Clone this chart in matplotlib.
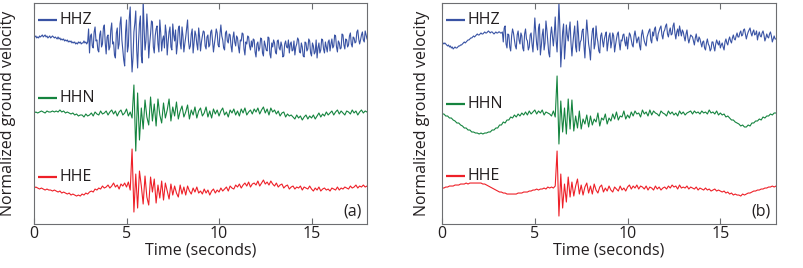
import numpy as np
import matplotlib
matplotlib.use("Agg")
import matplotlib.pyplot as plt

plt.rcParams['font.family'] = ['Open Sans', 'DejaVu Sans']

# sample spacing 0.1 s for most channels, 0.05 s for the vertical ones
t = np.linspace(0, 18, 181)
t_fine = np.linspace(0, 18, 361)

# station (a), deflection of each component (arbitrary units)
a_hhz = [0, 1, 2, 0, 1, 0, 2, 1, 2, 3, 1, 2, 3, 1, 2, 0, 1, 2, 0, 1,
         2, 1, 0, 1, 0, -1, 1, -1, 0, -2, -1, -2, -1, -3, -2, -3, -2, -4, -3, -4,
         -3, -5, -4, -5, -4, -6, -5, -6, -4, -5, -4, -6, -5, -5, -3, -5, -4, -6, -4, 9,
         -15, 2, 4, -8, -10, 6, 11, -3, -2, -12, -14, 3, 7, -9, -6, 10, 13, -5, -16, 1,
         3, -12, -9, 8, 15, -6, -4, -17, -20, 5, 10, -11, -6, 14, 21, -2, -12, -22, -28, 6,
         18, -14, -8, 20, 31, -10, -34, -20, 6, 15, 27, -12, -30, -4, 14, 22, -18, -25, 38, 10,
         -12, -3, 24, 8, -20, -6, 4, 17, 16, -9, -15, 2, 9, 12, -6, -14, 18, 5, -13, -2,
         2, -10, 13, 5, -17, -4, 6, 11, -9, -12, 14, 3, -3, 8, -16, -7, 9, 12, -5, -11,
         11, 2, -14, -6, 1, 10, 18, -3, -11, -8, 4, 9, -15, -5, 7, 3, -6, -12, 10, 1,
         -13, -4, 2, 7, 6, -8, -11, 1, 3, -9, -7, 6, 8, -3, -14, -6, 1, 9, 5, -7,
         -9, 4, 13, 2, -2, -10, -12, 5, 7, -3, -5, 4, 3, -8, -14, 0, 6, -4, -8, 2,
         0, -9, -15, -2, -3, 5, 4, -11, -17, -4, -6, 2, 1, -8, -12, -3, -9, -1, -2, -14,
         -19, -6, -4, -13, -10, 0, -1, -15, -18, -3, -7, -12, -13, 1, 0, -16, -20, -5, -9, -2,
         -5, -14, -16, -3, -2, -10, -12, -4, -8, -19, -18, -6, -3, -9, -10, -2, -15, -6, -4, -13,
         -12, -3, -17, -9, -6, 0, -2, -14, -15, -5, -9, -18, -19, -4, -5, -13, -11, -1, -3, -15,
         -18, -5, -8, -16, -14, -2, -20, -10, -5, -15, -12, -1, -2, -11, -15, -4, -9, -14, -4, -2,
         -13, -6, -1, -10, -8, 3, 2, -9, -14, -3, -5, -11, -10, 4, 3, -7, -11, -1, -2, -9,
         -7, 2, 5, -6, -9, 1, 0, -5, -4, 6, 8, -1, -6, -2, 3, 6, -2, -4, 7, 3,
         -1]

a_hhn = [0, 1, 0, 1, 2, 1, 0, 2, 1, 1,
         2, 1, 2, 1, 3, 1, 2, 0, 1, 0,
         -1, 0, -2, -1, -3, -2, -2, -4, -1, -3,
         -2, 0, -3, 1, -1, -2, 2, -1, 0, 2,
         -2, 1, 3, -1, 2, -3, 1, 3, -2, 0,
         4, -3, 1, -5, 28, -38, 20, -27, 5, -16,
         13, -4, -12, 16, -8, 9, -13, 14, -2, -10,
         10, -5, 3, 14, -8, 6, -3, 11, -6, 2,
         7, -4, 1, 8, -6, 3, -2, 6, -5, 2,
         5, -3, 0, 6, -4, 2, -5, 4, -1, 3,
         -3, 2, 5, -2, 1, -4, 3, 0, 4, -2,
         2, -3, 4, 0, 5, -2, 1, 3, -1, 4,
         1, 5, -1, 3, 6, 0, 4, -2, 5, 1,
         3, -1, 2, -3, 0, 1, -4, -1, -3, -2,
         -4, -6, -2, -5, -3, -7, -4, -2, -6, -3,
         -5, -2, -6, -3, 0, -4, -1, -3, 1, -2,
         0, 2, -2, 1, 3, -1, 2, 0, -2, 2,
         1, -1, 3, 0, 2, -2, 1, 3, 0, 2, 1]

a_hhe = [0, 1, 0, -1, 0, -1, -2, -1, -2, -2,
         -3, -2, -3, -4, -3, -5, -4, -5, -6, -5,
         -7, -6, -7, -8, -7, -8, -6, -7, -5, -6,
         -4, -3, -4, -1, -2, 0, -1, 2, 0, 1,
         3, 0, 2, 5, 1, 3, -1, 4, 2, 5,
         1, 6, -2, 39, -24, 14, -20, 17, 2, -16,
         12, -9, -17, 11, -4, 9, -15, 3, -10, 7,
         -12, 5, -3, -11, 4, -7, 2, -5, -9, 3,
         -6, 1, -7, 2, -3, -6, 0, -4, 1, -5,
         -3, -6, -1, -5, -2, -7, -3, -1, -5, -2,
         -4, 0, -3, -1, 1, -3, 2, 0, -1, 3,
         1, 4, 0, 3, 5, 2, 6, 1, 4, 5,
         3, 7, 2, 5, 8, 4, 6, 3, 7, 4,
         2, 5, 1, 3, 4, 0, 2, 3, -1, 1,
         2, -1, 1, 0, 2, -2, 1, 0, -1, 2,
         -1, -3, 0, -2, 1, -3, -1, 0, -2, -1,
         -3, 0, -1, -2, 1, -2, 0, -1, 1, 0,
         -1, 2, 0, 1, 3, 0, 2, 1, 3, 1, 2]

# station (b)
b_hhz = [-4, -5, -6, -5, -6, -7, -8, -7, -9, -8, -10, -9, -11, -10, -9, -10, -10, -9, -8, -8,
         -7, -7, -6, -5, -4, -5, -4, -3, -2, -2, -1, 0, 0, 1, 2, 1, 2, 3, 4, 3,
         3, 4, 5, 4, 4, 5, 6, 5, 5, 6, 7, 6, 5, 6, 6, 5, 4, 5, 6, 5,
         5, 6, 6, 5, 5, 6, -4, 10, 12, -6, -10, 4, 3, -9, -13, 2, 9, 5, -2, -8,
         -11, 3, 7, -2, -6, 5, 2, -10, -13, 4, 9, -1, -3, -12, -9, 3, 5, -6, -14, 2,
         20, 6, -6, -12, 10, 14, -17, -8, 3, 9, -12, -5, 17, 8, -4, -15, -19, 3, 11, 2,
         -8, 4, 21, -3, -14, 8, 35, 10, -29, -12, 6, 14, -21, -7, 13, 3, -3, 8, 16, -5,
         -18, -6, 4, 12, -9, -14, 17, 5, -13, -4, -2, 7, 9, -8, -20, 2, 18, 6, -6, -12,
         -22, -3, 7, 10, -11, -6, 12, 1, -4, -13, -15, 2, 5, -3, -9, -1, 3, 6, -13, -5,
         2, 5, -10, -4, 5, 2, -14, -7, -1, 4, 6, -5, -12, -2, -3, 3, 4, -4, -8, 1,
         -11, -2, 5, 3, -2, -7, -9, 2, 7, 1, -5, -1, 1, -8, -12, 3, 8, 2, -3, -6,
         -8, 1, 4, 7, 9, -2, -5, 6, 2, 9, 11, 0, -3, 4, 7, 10, 12, 3, -1, 6,
         8, 12, 14, 4, 1, 7, 10, 3, 4, 12, 15, 5, -1, 6, 9, 2, 12, 7, 2, 8,
         6, 1, -3, 4, 8, 0, -5, -1, 3, 2, 1, -3, -7, 0, 4, -2, -4, 1, -1, -5,
         -9, -4, -3, -10, -12, -5, -1, -6, -8, -13, -11, -4, -4, -9, -13, -6, -2, -5, -7, -3,
         -10, -7, -5, -9, -12, -4, -1, -5, -7, -2, 1, -3, -5, 0, 3, -1, -2, 2, 5, 1,
         1, 5, 7, 2, 3, 8, 9, 4, -1, 3, 6, 8, 10, 5, 2, 6, 8, 3, 4, 7,
         -2, 3, 6, 2, 1, 5, 7, 3, -3, 0, 4, 1, 0, 4, 6, 2, -4, -1, 2, -1,
         -1]

b_hhn = [-1, -1, -3, -3, -5, -5, -7, -8, -10, -10,
         -12, -13, -15, -15, -17, -17, -19, -19, -20, -20,
         -21, -20, -21, -20, -20, -19, -19, -17, -17, -15,
         -15, -12, -12, -9, -10, -7, -7, -4, -5, -2,
         -4, -1, -3, 0, -2, 1, -2, 2, -1, 1,
         3, -1, 2, 0, 3, -2, 1, 0, -1, -3,
         2, -4, 37, -31, 12, -19, 5, -21, 14, -16,
         13, -18, -3, -15, 2, -16, -6, -11, -2, -14,
         -3, -12, -6, -9, 0, -13, -5, -7, -1, -11,
         -5, -8, -1, -6, 1, -7, -3, -4, 2, -6,
         -2, -5, 1, -3, 2, -1, 0, -4, 3, -1,
         1, -3, 3, -2, 2, 0, -1, -3, 2, 0,
         -1, -3, 2, -1, 1, -2, 0, -3, 2, -1,
         1, -2, 0, 1, 2, -1, 2, 0, 1, -1,
         2, 0, 1, -1, 3, 0, 1, -1, 2, -2,
         0, -2, -1, -4, -3, -5, -7, -7, -9, -10,
         -11, -13, -12, -14, -14, -12, -13, -10, -10, -8,
         -8, -6, -7, -4, -5, -3, -3, -1, -2, 0, 0]

b_hhe = [0, 0, 1, 1, 2, 2, 2, 3, 3, 3,
         4, 4, 4, 5, 4, 5, 5, 5, 5, 5,
         5, 5, 4, 4, 3, 2, 1, 0, -1, -2,
         -3, -4, -4, -5, -5, -6, -6, -6, -6, -6,
         -6, -5, -5, -5, -4, -4, -4, -3, -3, -2,
         -2, -1, -2, -1, -1, 0, -1, 1, 0, 1,
         0, 2, 37, -28, 14, -20, 4, -14, 11, -9,
         6, -8, 2, 9, -6, 3, -7, 1, 5, -5,
         2, -6, 4, -2, -5, 1, 3, -4, 0, -3,
         2, -2, -4, 1, -1, -3, 2, -2, 0, -3,
         1, 3, -1, 2, 0, 3, -1, 2, 1, -1,
         2, -2, 1, 0, -2, 2, -1, 1, -2, 0,
         1, -1, 2, 0, 3, 1, 2, -1, 3, 0,
         1, 0, 2, -1, 1, 0, -1, 1, -2, 0,
         -1, -2, 0, -2, -1, -3, -2, -1, -3, -2,
         -3, -4, -3, -5, -4, -6, -5, -7, -6, -7,
         -7, -8, -6, -7, -6, -5, -5, -4, -3, -3,
         -2, -2, -1, -1, 0, 0, 1, 1, 2, 1, 2]

components = ["HHZ", "HHN", "HHE"]
colors = {"HHZ": "#3953a4", "HHN": "#15843f", "HHE": "#ee2028"}
offsets = {"HHZ": 150, "HHN": 75, "HHE": 0}
text_col = "#231f20"
spine_col = "#6d6e71"

fig = plt.figure(figsize=(8.04, 2.68), dpi=100)


def draw_panel(ax, traces, tag, label_y, ylab_x):
    for comp in components:
        vals = np.array(traces[comp])
        tt = t_fine if len(vals) == len(t_fine) else t
        ax.plot(tt, vals + offsets[comp], color=colors[comp], lw=0.8)
        # short line + name, like the original labels
        ly = label_y[comp]
        ax.plot([0.012, 0.068], [ly, ly], transform=ax.transAxes,
                color=colors[comp], lw=1.6, solid_capstyle='butt')
        ax.text(0.077, ly, comp, transform=ax.transAxes, va='center', ha='left',
                fontsize=11.5, color=text_col)
    ax.text(0.985, 0.055, tag, transform=ax.transAxes, ha='right', va='center',
            fontsize=11.5, color=text_col)
    ax.set_xlim(0, 18)
    ax.set_ylim(-36, 185)
    ax.set_xticks([0, 5, 10, 15])
    ax.set_yticks([])
    ax.tick_params(axis='x', direction='in', top=True, length=4, width=0.8,
                   colors=spine_col, labelcolor=text_col, labelsize=11.5, pad=1.5)
    for s in ax.spines.values():
        s.set_color(spine_col)
        s.set_linewidth(0.8)
    ax.set_xlabel("Time (seconds)", fontsize=11.5, color=text_col, labelpad=0.5)
    ax.set_ylabel("Normalized ground velocity", fontsize=11.5, color=text_col)
    ax.yaxis.set_label_coords(ylab_x, 0.5)


ax_a = fig.add_axes([0.0423, 0.164, 0.4142, 0.825])
draw_panel(ax_a, {"HHZ": a_hhz, "HHN": a_hhn, "HHE": a_hhe}, "(a)",
           {"HHZ": 0.922, "HHN": 0.57, "HHE": 0.213}, -0.055)

ax_b = fig.add_axes([0.5498, 0.164, 0.4154, 0.825])
draw_panel(ax_b, {"HHZ": b_hhz, "HHN": b_hhn, "HHE": b_hhe}, "(b)",
           {"HHZ": 0.922, "HHN": 0.545, "HHE": 0.217}, -0.037)

fig.savefig("out.png", dpi=100)
